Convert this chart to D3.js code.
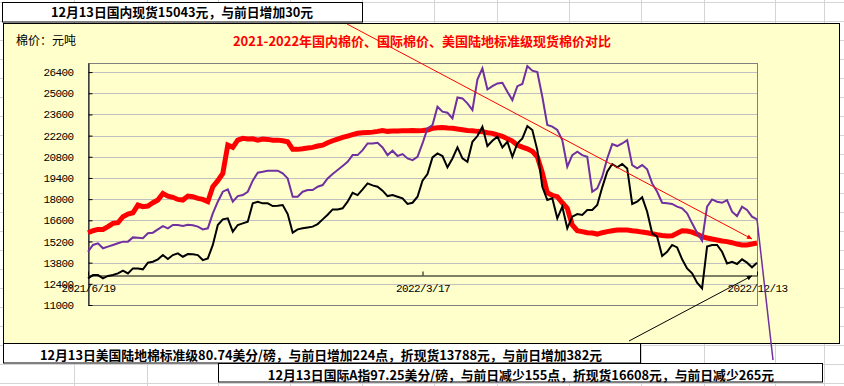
<!DOCTYPE html>
<html>
<head>
<meta charset="utf-8">
<script src="https://d3js.org/d3.v7.min.js"></script>
<style>
body { margin: 0; background: #fff; }
text { font-family: "Noto Sans CJK SC", sans-serif; }
.num text { font-family: "Liberation Mono", monospace; font-size: 11px; letter-spacing: -0.6px; fill: #000; }
</style>
</head>
<body>
<div id="chart"></div>
<script>

// axis labels
var xLabels = ["2021/6/19", "2022/3/17", "2022/12/13"];
var xLabelIndex = [0, 67, 134];
var yTicks = [11000, 12400, 13800, 15200, 16600, 18000, 19400, 20800, 22200, 23600, 25000, 26400];

// texts
var titleText = "2021-2022年国内棉价、国际棉价、美国陆地标准级现货棉价对比";
var unitText = "棉价：元吨";
var headText = "12月13日国内现货15043元，与前日增加30元";
var footText1 = "12月13日美国陆地棉标准级80.74美分/磅，与前日增加224点，折现货13788元，与前日增加382元";
var footText2 = "12月13日国际A指97.25美分/磅，与前日减少155点，折现货16608元，与前日减少265元";

// 国内棉价 (red), equal steps 2021/6/19 .. 2022/12/13
var domestic = [
  15780, 15910, 16000, 16000, 16180, 16400, 16440, 16840, 17010, 17100, 17610, 17500, 17540, 17760, 17940, 18380, 18200, 18120, 17980, 17940, 18200, 18160, 18050, 17980, 17830, 18820, 19220, 19700, 21570, 21420, 21900, 22020, 21970, 21990, 21900,
  21970, 21950, 21900, 21900, 21860, 21790, 21290, 21290, 21330, 21380, 21420, 21510, 21570, 21730, 21860, 21970, 22080, 22170, 22260, 22350, 22390, 22410, 22430, 22480, 22540, 22480, 22500, 22500, 22520, 22520, 22540, 22520, 22540, 22570,
  22680, 22720, 22740, 22700, 22680, 22630, 22590, 22540, 22520, 22480, 22460, 22390, 22350, 22240, 22150, 21990, 21840, 21570, 21440, 21330, 21160, 20800, 19750, 18420, 18250, 18160, 17760, 17390, 16290, 15910, 15850, 15780, 15760, 15690,
  15780, 15850, 15910, 15960, 15960, 15960, 15910, 15870, 15820, 15780, 15710, 15650, 15600, 15560, 15580, 15740, 15910, 15890, 15820, 15690, 15520, 15430, 15360, 15300, 15230, 15190, 15120, 15030, 14970, 14970, 15030, 15100
];

// 国际棉价 (purple)
var intl = [
  14520, 14970, 15080, 14750, 14860, 14970, 15080, 15190, 15190, 15470, 15450, 15410, 15740, 15780, 16000, 16220, 16070, 16290, 16290, 16220, 16310, 16270, 16180, 16000, 16070, 17060, 17830, 18490, 18640, 17830, 18200, 18270, 18490, 19220, 19750,
  19810, 19880, 19880, 19880, 19700, 19370, 18160, 18160, 18490, 18600, 18600, 18820, 18930, 19370, 19660, 19920, 20190, 20470, 20910, 20910, 21240, 21680, 21680, 21730, 21420, 20910, 21200, 20850, 20980, 20690, 20580, 20800, 21680, 22680,
  22900, 24110, 23780, 23710, 23340, 24720, 24660, 24330, 23890, 25910, 26640, 25250, 25470, 25650, 25690, 25100, 24550, 25470, 25610, 26800, 26490, 26400, 24770, 22900, 22790, 22570, 21900, 20140, 20910, 21130, 20910, 20800, 18490, 18710,
  19480, 20690, 21640, 21510, 21680, 21900, 20250, 20030, 20250, 19970, 19040, 18490, 17760, 17720, 17680, 17500, 17390, 17060, 16400, 15780, 15250, 17500, 17980, 17830, 17760, 17940, 17170, 16880, 17500, 17280, 16840, 16660
];

// 美国陆地棉标准级 (black)
var usUpland = [
  12760, 12980, 12980, 12760, 12920, 12980, 13090, 13270, 13090, 13420, 13420, 13360, 13800, 13860, 14020, 14300, 14040, 14300, 14410, 14190, 14370, 14350, 14300, 13970, 14080, 14970, 16290, 16660, 16730, 15850, 16290, 16400, 16510, 17720, 17830,
  17720, 17720, 17540, 17560, 17610, 17010, 15780, 16000, 16070, 16130, 16180, 16350, 16660, 16970, 17320, 17320, 17390, 17830, 18420, 18270, 18640, 19040, 18910, 18820, 18560, 18200, 18270, 18160, 18050, 17680, 17760, 18160, 19220, 19660,
  20760, 21020, 20850, 20100, 20690, 21420, 20690, 20470, 21790, 22170, 22790, 21510, 21860, 22130, 21420, 21790, 20800, 21680, 22020, 22830, 22570, 21240, 18820, 17940, 18050, 16730, 17500, 16070, 16840, 17010, 16950, 17280, 17280, 17610,
  18780, 19810, 20320, 20100, 20320, 20030, 17680, 17830, 18120, 17170, 15740, 15520, 14240, 14520, 14970, 14810, 14020, 13420, 13090, 12480, 12100, 14860, 14970, 14970, 14520, 13750, 13860, 13710, 14020, 13800, 13490, 13800
];

// page and plot box
var W = 844, H = 386;
var plot = {left: 88, top: 63, right: 757, bottom: 305};

var svg = d3.select("#chart").append("svg")
    .attr("width", W)
    .attr("height", H);

// spreadsheet cells behind the chart
var sheetCols = [74, 147, 218, 290, 362, 434, 497, 569, 641, 704, 775, 824];
var sheetRows = d3.range(0, 21).map(function(i) { return Math.round(2 + i * 19.05); });
svg.append("g").selectAll("line").data(sheetCols).enter().append("line")
    .attr("x1", function(d) { return d + 0.5; })
    .attr("x2", function(d) { return d + 0.5; })
    .attr("y1", 0).attr("y2", H)
    .attr("stroke", "#d4d4d4");
svg.append("g").selectAll("line").data(sheetRows).enter().append("line")
    .attr("x1", 0).attr("x2", W)
    .attr("y1", function(d) { return d + 0.5; })
    .attr("y2", function(d) { return d + 0.5; })
    .attr("stroke", "#d4d4d4");

// header cell
svg.append("rect")
    .attr("x", 2.5).attr("y", 2.5).attr("width", 360).attr("height", 19.5)
    .attr("fill", "#fff").attr("stroke", "#000");
svg.append("text")
    .attr("x", 182).attr("y", 13).attr("dy", "0.35em")
    .attr("text-anchor", "middle")
    .attr("font-size", 12.8).attr("font-weight", "bold")
    .text(headText);

// chart box
svg.append("rect")
    .attr("x", 3.5).attr("y", 23.5).attr("width", 836).attr("height", 320)
    .attr("fill", "#FFFFCC").attr("stroke", "#000");

svg.append("text")
    .attr("x", 16).attr("y", 41).attr("dy", "0.35em")
    .attr("font-size", 12)
    .text(unitText);

svg.append("text")
    .attr("x", 422).attr("y", 41).attr("dy", "0.35em")
    .attr("text-anchor", "middle")
    .attr("font-size", 13).attr("font-weight", "bold")
    .attr("fill", "#FF0000")
    .text(titleText);

// scales
var x = d3.scaleLinear().domain([0, domestic.length - 1]).range([plot.left, plot.right]);
var y = d3.scaleLinear().domain([11000, 27000]).range([plot.bottom, plot.top]);

// gridlines
svg.append("g").selectAll("line").data(yTicks).enter().append("line")
    .attr("x1", plot.left).attr("x2", plot.right)
    .attr("y1", function(d) { return Math.round(y(d)) + 0.5; })
    .attr("y2", function(d) { return Math.round(y(d)) + 0.5; })
    .attr("stroke", "#c0c0c0");

// plot area border
svg.append("rect")
    .attr("x", plot.left + 0.5).attr("y", plot.top + 0.5)
    .attr("width", plot.right - plot.left).attr("height", plot.bottom - plot.top)
    .attr("fill", "none").attr("stroke", "#808080");

// y axis
var yAxis = svg.append("g")
    .attr("class", "num")
    .attr("transform", "translate(" + (plot.left + 0.5) + ",0)")
    .call(d3.axisLeft(y).tickValues(yTicks).tickSize(-4).tickSizeOuter(0).tickPadding(15)
        .tickFormat(function(d) { return d; }));
yAxis.select(".domain").attr("stroke", "#000");
yAxis.selectAll(".tick line").attr("stroke", "#000");

// x axis, crossing at 13000
var xAxis = svg.append("g")
    .attr("class", "num")
    .attr("transform", "translate(0," + (Math.round(y(13000)) + 0.5) + ")")
    .call(d3.axisBottom(x).tickValues(xLabelIndex).tickSize(-4).tickSizeOuter(0).tickPadding(9)
        .tickFormat(function(d, i) { return xLabels[i]; }));
xAxis.select(".domain").attr("stroke", "#000");
xAxis.selectAll(".tick line").attr("stroke", "#000");

// series lines
var valueline = d3.line()
    .x(function(d, i) { return x(i); })
    .y(function(d) { return y(d); });

svg.append("path")
    .datum(domestic)
    .attr("fill", "none")
    .attr("stroke", "#FF0000")
    .attr("stroke-width", 5)
    .attr("d", valueline);

svg.append("path")
    .datum(intl)
    .attr("fill", "none")
    .attr("stroke", "#7030A0")
    .attr("stroke-width", 2)
    .attr("d", valueline);

svg.append("path")
    .datum(usUpland)
    .attr("fill", "none")
    .attr("stroke", "#000")
    .attr("stroke-width", 2)
    .attr("d", valueline);

// arrow heads
var defs = svg.append("defs");
[["arrRed", "#FF0000"], ["arrBlack", "#000"]].forEach(function(m) {
  defs.append("marker")
      .attr("id", m[0])
      .attr("viewBox", "0 0 10 10")
      .attr("refX", 10).attr("refY", 5)
      .attr("markerWidth", 7).attr("markerHeight", 5)
      .attr("markerUnits", "userSpaceOnUse")
      .attr("orient", "auto")
    .append("path")
      .attr("d", "M0,0L10,5L0,10Z")
      .attr("fill", m[1]);
});

// footer cells
svg.append("rect")
    .attr("x", 3.5).attr("y", 343.5).attr("width", 637).attr("height", 19.5)
    .attr("fill", "#fff").attr("stroke", "#000");
svg.append("rect")
    .attr("x", 218.5).attr("y", 363.5).attr("width", 604).attr("height", 18.5)
    .attr("fill", "#fff").attr("stroke", "#000");
svg.append("text")
    .attr("x", 321).attr("y", 356).attr("dy", "0.35em")
    .attr("text-anchor", "middle")
    .attr("font-size", 12.8).attr("font-weight", "bold")
    .text(footText1);
svg.append("text")
    .attr("x", 521).attr("y", 375.5).attr("dy", "0.35em")
    .attr("text-anchor", "middle")
    .attr("font-size", 12.8).attr("font-weight", "bold")
    .text(footText2);

// pointer lines from the notes to the last points
var last = domestic.length - 1;
svg.append("line")
    .attr("x1", 347).attr("y1", 24)
    .attr("x2", x(last) - 5).attr("y2", y(domestic[last]) - 4)
    .attr("stroke", "#FF0000").attr("stroke-width", 1)
    .attr("marker-end", "url(#arrRed)");
svg.append("line")
    .attr("x1", 629).attr("y1", 341)
    .attr("x2", x(last) - 5).attr("y2", y(13000) + 1)
    .attr("stroke", "#000").attr("stroke-width", 1)
    .attr("marker-end", "url(#arrBlack)");
svg.append("line")
    .attr("x1", x(last)).attr("y1", y(intl[last]))
    .attr("x2", 773).attr("y2", 360)
    .attr("stroke", "#7030A0").attr("stroke-width", 1.5);

</script>
</body>
</html>
